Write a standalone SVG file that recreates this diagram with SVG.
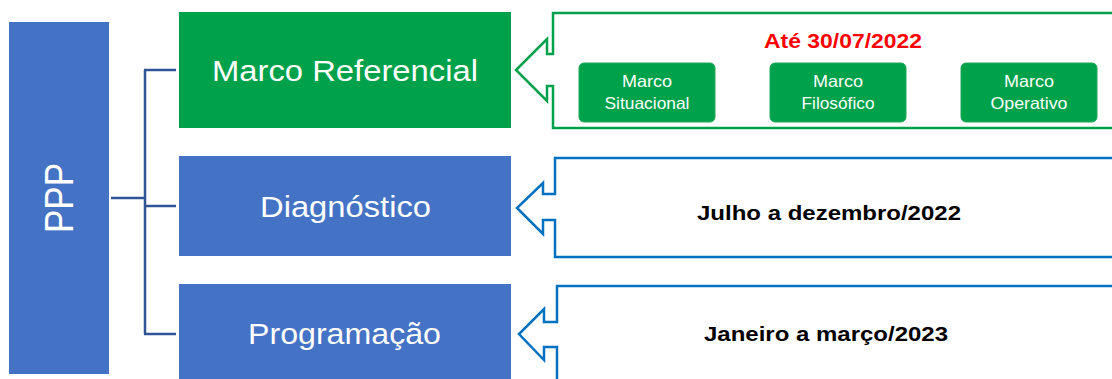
<svg xmlns="http://www.w3.org/2000/svg" width="1112" height="379" viewBox="0 0 1112 379">
<style>
.blue{fill:#4472C4}
.green{fill:#00A14B}
.big{font-family:"Liberation Sans",Arial,sans-serif;fill:#fff;font-size:29px;text-anchor:middle}
.small{font-family:"Liberation Sans",Arial,sans-serif;fill:#fff;font-size:16.5px;text-anchor:middle}
.bold{font-family:"Liberation Sans",Arial,sans-serif;font-weight:bold;font-size:21px;text-anchor:middle;fill:#000}
.conn{fill:none;stroke:#2F5597;stroke-width:2.5}
.gcall{fill:#fff;stroke:#00A14B;stroke-width:2.5}
.bcall{fill:#fff;stroke:#0070C0;stroke-width:2.5}
.sbox{fill:#00A14B;stroke:#1FA85A;stroke-width:1}
</style>
<rect width="1112" height="379" fill="#fff"/>
<g id="connectors">
<path class="conn" d="M111 198 H145 M145 70 V334 M144 70 H176 M144 206 H176 M144 334 H176"/>
</g>
<g id="ppp">
<rect class="blue" x="9" y="22" width="100" height="352"/>
<text class="big" transform="translate(59,198) rotate(-90)" y="14" style="font-size:40px" textLength="70" lengthAdjust="spacingAndGlyphs">PPP</text>
</g>
<g id="marco-referencial">
<rect class="green" x="179" y="12" width="332" height="116"/>
<text class="big" x="345" y="81" textLength="266" lengthAdjust="spacingAndGlyphs">Marco Referencial</text>
</g>
<g id="diagnostico">
<rect class="blue" x="179" y="156" width="332" height="100"/>
<text class="big" x="345.5" y="217" textLength="171" lengthAdjust="spacingAndGlyphs">Diagnóstico</text>
</g>
<g id="programacao">
<rect class="blue" x="179" y="284" width="332" height="100"/>
<text class="big" x="344.5" y="344" textLength="193" lengthAdjust="spacingAndGlyphs">Programação</text>
</g>
<g id="callout-marco">
<path class="gcall" d="M1120 13 H553 V54 H547 V39 L516 70 L547 101 V86 H553 V128 H1120"/>
<text class="bold" x="843" y="48" style="fill:#FF0000" textLength="158" lengthAdjust="spacingAndGlyphs">Até 30/07/2022</text>
</g>
<g id="marco-situacional">
<rect class="sbox" x="579" y="63" width="136" height="59" rx="5"/>
<text class="small" x="647" y="87" textLength="50" lengthAdjust="spacingAndGlyphs">Marco</text>
<text class="small" x="647" y="109" textLength="85" lengthAdjust="spacingAndGlyphs">Situacional</text>
</g>
<g id="marco-filosofico">
<rect class="sbox" x="770" y="63" width="136" height="59" rx="5"/>
<text class="small" x="838" y="87" textLength="50" lengthAdjust="spacingAndGlyphs">Marco</text>
<text class="small" x="838" y="109" textLength="73" lengthAdjust="spacingAndGlyphs">Filosófico</text>
</g>
<g id="marco-operativo">
<rect class="sbox" x="961" y="63" width="136" height="59" rx="5"/>
<text class="small" x="1029" y="87" textLength="50" lengthAdjust="spacingAndGlyphs">Marco</text>
<text class="small" x="1029" y="109" textLength="77" lengthAdjust="spacingAndGlyphs">Operativo</text>
</g>
<g id="callout-diagnostico">
<path class="bcall" d="M1120 158 H555 V194 H543 V183 L517 208 L543 234 V220 H555 V257 H1120"/>
<text class="bold" x="829" y="220" textLength="264" lengthAdjust="spacingAndGlyphs">Julho a dezembro/2022</text>
</g>
<g id="callout-programacao">
<path class="bcall" d="M1120 286 H557 V322 H544 V309 L519 334 L544 360 V347 H557 V390"/>
<text class="bold" x="826" y="341" textLength="244" lengthAdjust="spacingAndGlyphs">Janeiro a março/2023</text>
</g>
</svg>
